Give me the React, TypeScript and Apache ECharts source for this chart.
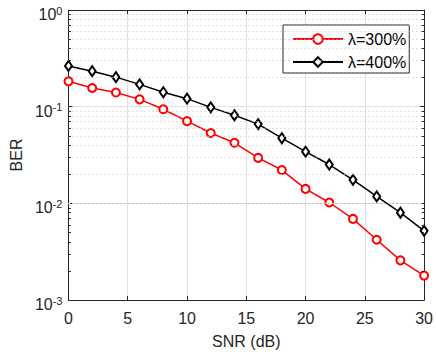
import React, { useEffect, useRef } from "react";
import * as echarts from "echarts";

const snr = [0, 2, 4, 6, 8, 10, 12, 14, 16, 18, 20, 22, 24, 26, 28, 30];
const ber300 = [0.183, 0.156, 0.14, 0.119, 0.094, 0.0708, 0.0534, 0.0423, 0.0295, 0.0221, 0.0141, 0.0102, 0.0069, 0.0042, 0.00257, 0.00179];
const ber400 = [0.264, 0.233, 0.202, 0.17, 0.141, 0.121, 0.0984, 0.0816, 0.066, 0.0472, 0.0342, 0.0252, 0.0175, 0.0118, 0.008, 0.0052];
const seriesNames = ["λ=300%", "λ=400%"];
const minorGridValues = [
  0.002, 0.003, 0.004, 0.005, 0.006, 0.007, 0.008, 0.009,
  0.02, 0.03, 0.04, 0.05, 0.06, 0.07, 0.08, 0.09,
  0.2, 0.3, 0.4, 0.5, 0.6, 0.7, 0.8, 0.9,
];
const xMin = 0;
const xMax = 30;
const xInterval = 5;
const yMin = 0.001;
const yMax = 1;

const FONT = "'Liberation Sans', Arial, Helvetica, sans-serif";
const AXIS_COLOR = "#262626";
const FS = 16;

export default function App() {
  const ref = useRef<HTMLDivElement>(null);
  useEffect(() => {
    if (!ref.current) return;
    const chart = echarts.init(ref.current, undefined, { renderer: "svg" });
    const supFmt = (v: number) => {
      const e = Math.round(Math.log10(v));
      return "{b|10}{s|" + e + "}";
    };
    const tickLen = 0.2;
    const minorTickLines: any[] = [];
    minorGridValues.forEach((v) => {
      minorTickLines.push([
        { coord: [xMin, v] },
        { coord: [xMin + tickLen, v] },
      ]);
      minorTickLines.push([
        { coord: [xMax - tickLen, v] },
        { coord: [xMax, v] },
      ]);
    });
    chart.setOption({
      animation: false,
      backgroundColor: "#fff",
      textStyle: { fontFamily: FONT },
      grid: { left: 62, right: 8, top: 10, bottom: 50, containLabel: false },
      legend: {
        data: seriesNames,
        orient: "vertical",
        left: 283,
        top: 25,
        backgroundColor: "#fff",
        borderColor: AXIS_COLOR,
        borderWidth: 1,
        borderRadius: 0,
        padding: [6, 3, 3, 9],
        itemGap: 7,
        itemWidth: 50,
        itemHeight: 12,
        textStyle: { fontSize: FS, color: "#000", fontFamily: FONT },
      },
      xAxis: [
        {
          type: "value",
          min: xMin,
          max: xMax,
          interval: xInterval,
          name: "SNR (dB)",
          nameLocation: "middle",
          nameGap: 33,
          nameTextStyle: { fontSize: FS, color: AXIS_COLOR, fontFamily: FONT },
          axisLine: { show: true, onZero: false, lineStyle: { color: AXIS_COLOR, width: 1 } },
          axisTick: { show: true, inside: true, length: 4, lineStyle: { color: AXIS_COLOR } },
          axisLabel: { fontSize: FS, color: AXIS_COLOR, margin: 10, fontFamily: FONT },
          splitLine: { show: true, lineStyle: { color: "#dfdfdf", width: 1 } },
        },
        {
          type: "value",
          position: "top",
          min: xMin,
          max: xMax,
          interval: xInterval,
          axisLine: { show: true, onZero: false, lineStyle: { color: AXIS_COLOR, width: 1 } },
          axisTick: { show: true, inside: true, length: 4, lineStyle: { color: AXIS_COLOR } },
          axisLabel: { show: false },
          splitLine: { show: false },
        },
      ],
      yAxis: [
        {
          type: "log",
          logBase: 10,
          min: yMin,
          max: yMax,
          name: "BER",
          nameLocation: "middle",
          nameGap: 42,
          nameTextStyle: { fontSize: FS, color: AXIS_COLOR, fontFamily: FONT },
          axisLine: { show: true, onZero: false, lineStyle: { color: AXIS_COLOR, width: 1 } },
          axisTick: { show: true, inside: true, length: 4, lineStyle: { color: AXIS_COLOR } },
          axisLabel: {
            margin: 6,
            color: AXIS_COLOR,
            formatter: supFmt,
            padding: [9, 0, 0, 0],
            rich: {
              b: { fontSize: FS, color: AXIS_COLOR, fontFamily: FONT },
              s: { fontSize: 11, color: AXIS_COLOR, fontFamily: FONT, verticalAlign: "top", padding: [0, 0, 8, 0] },
            },
          },
          splitLine: { show: true, lineStyle: { color: "#dfdfdf", width: 1 } },
        },
        {
          type: "log",
          logBase: 10,
          min: yMin,
          max: yMax,
          position: "right",
          axisLine: { show: true, onZero: false, lineStyle: { color: AXIS_COLOR, width: 1 } },
          axisTick: { show: true, inside: true, length: 4, lineStyle: { color: AXIS_COLOR } },
          axisLabel: { show: false },
          splitLine: { show: false },
        },
      ],
      series: [
        {
          name: "minor-grid",
          type: "line",
          data: [],
          silent: true,
          z: 1,
          markLine: {
            silent: true,
            symbol: ["none", "none"],
            label: { show: false },
            lineStyle: { color: "#c4c4c4", type: [1, 3], width: 1 },
            data: minorGridValues.map((v) => ({ yAxis: v })),
          },
        },
        {
          name: "minor-ticks",
          type: "line",
          data: [],
          silent: true,
          z: 4,
          markLine: {
            silent: true,
            symbol: ["none", "none"],
            label: { show: false },
            lineStyle: { color: AXIS_COLOR, type: "solid", width: 1 },
            data: minorTickLines,
          },
        },
        {
          name: seriesNames[0],
          type: "line",
          z: 3,
          data: snr.map((x, i) => [x, ber300[i]]),
          symbol: "emptyCircle",
          symbolSize: 8,
          color: "#ff0000",
          lineStyle: { color: "#ff0000", width: 1.5 },
          itemStyle: { color: "#ff0000", borderWidth: 1.2 },
        },
        {
          name: seriesNames[1],
          type: "line",
          z: 3,
          data: snr.map((x, i) => [x, ber400[i]]),
          symbol: "emptyDiamond",
          symbolSize: [7, 10],
          color: "#000000",
          lineStyle: { color: "#000000", width: 1.5 },
          itemStyle: { color: "#000000", borderWidth: 1.2 },
        },
      ],
    });
    return () => chart.dispose();
  }, []);
  return <div ref={ref} style={{ width: 436, height: 354, position: "absolute", left: 0, top: 0 }} />;
}
